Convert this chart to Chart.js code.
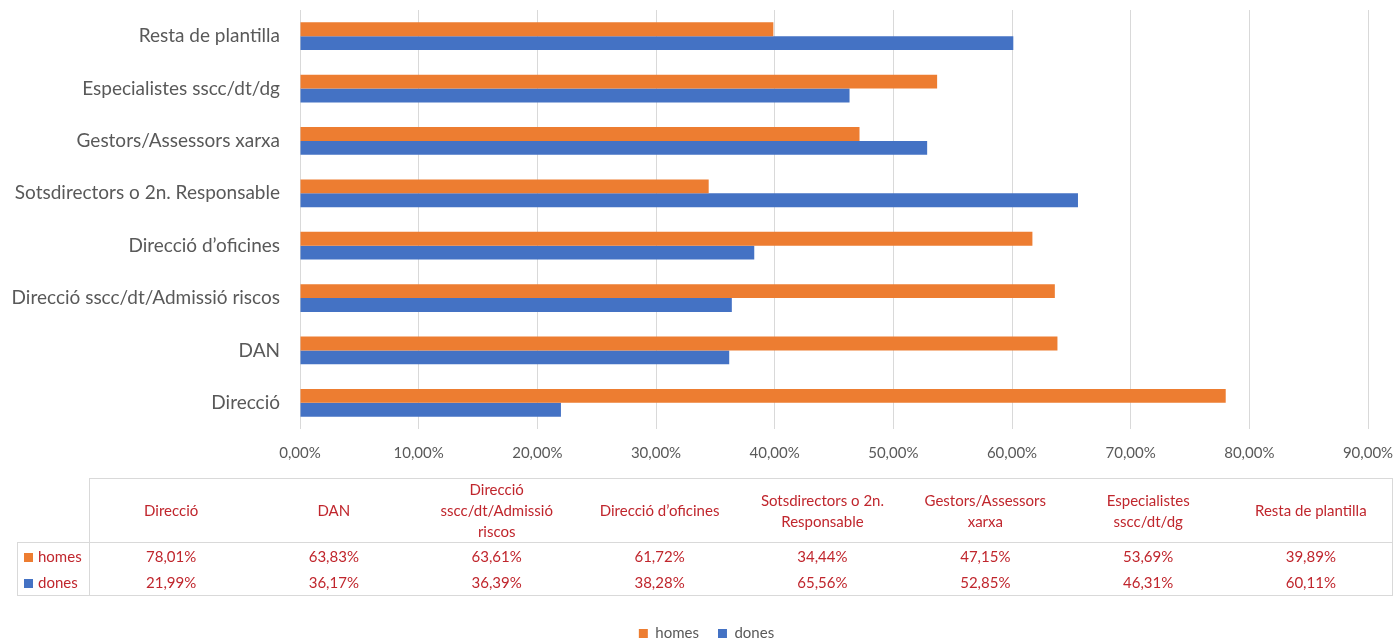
<!DOCTYPE html>
<html>
<head>
<meta charset="utf-8">
<script src="https://cdn.jsdelivr.net/npm/chart.js@4"></script>
<style>
  html, body { margin: 0; padding: 0; background: #fff; }
  #wrap { position: relative; width: 1398px; height: 639px; }
  #chart { position: absolute; left: 0; top: 0; }
  #dataTable {
    position: absolute; left: 17px; top: 478px; width: 1376px;
    border-collapse: collapse; table-layout: fixed;
    font-family: Lato, "Open Sans", sans-serif; font-size: 15px; color: #c0262d;
  }
  #dataTable th, #dataTable td { padding: 0 11px; text-align: center; font-weight: normal; line-height: 21px; }
  #dataTable thead th { height: 61px; border-top: 1px solid #d9d9d9; }
  #dataTable thead th.corner { border: none; }
  #dataTable th.first { border-left: 1px solid #d9d9d9; }
  #dataTable td { height: 26px; }
  #dataTable tbody tr:first-child td { border-top: 1px solid #d9d9d9; }
  #dataTable tbody tr:last-child td { border-bottom: 1px solid #d9d9d9; }
  #dataTable td.series { text-align: left; padding: 0 0 0 6px; border-left: 1px solid #d9d9d9; border-right: 1px solid #d9d9d9; }
  #dataTable th:last-child, #dataTable td:last-child { border-right: 1px solid #d9d9d9; }
  .swatch { display: inline-block; width: 9px; height: 9px; margin-right: 5px; }
</style>
</head>
<body>
<div id="wrap">
  <canvas id="chart" width="1398" height="639"></canvas>
  <table id="dataTable"></table>
</div>
<script>
// Categories (table order, bottom to top in the chart)
const categories = [
    'Direcció',
    'DAN',
    'Direcció sscc/dt/Admissió riscos',
    'Direcció d’oficines',
    'Sotsdirectors o 2n. Responsable',
    'Gestors/Assessors xarxa',
    'Especialistes sscc/dt/dg',
    'Resta de plantilla'
];
const homes = [78.01, 63.83, 63.61, 61.72, 34.44, 47.15, 53.69, 39.89];
const dones = [21.99, 36.17, 36.39, 38.28, 65.56, 52.85, 46.31, 60.11];
const seriesNames = ['homes', 'dones'];
const seriesColors = ['#ED7D31', '#4472C4'];

const FONT = 'Lato, "Open Sans", sans-serif';
const GREY = '#595959';

function formatPct(v) {
    return v.toFixed(2).replace('.', ',') + '%';
}

// Data table under the chart
function buildTable() {
    const table = document.getElementById('dataTable');
    let html = '<colgroup><col style="width:72px">';
    categories.forEach(() => { html += '<col>'; });
    html += '</colgroup><thead><tr><th class="corner"></th>';
    categories.forEach((c, i) => {
        html += `<th${i === 0 ? ' class="first"' : ''}>${c}</th>`;
    });
    html += '</tr></thead><tbody>';
    [homes, dones].forEach((values, s) => {
        html += `<tr><td class="series"><span class="swatch" style="background:${seriesColors[s]}"></span>${seriesNames[s]}</td>`;
        values.forEach(v => { html += `<td>${formatPct(v)}</td>`; });
        html += '</tr>';
    });
    html += '</tbody>';
    table.innerHTML = html;
}
buildTable();

// Nudge the legend a little to the right, where the original has it
const legendShift = {
    id: 'legendShift',
    afterLayout(chart) {
        chart.legend.left += 20;
        chart.legend.right += 20;
    }
};

new Chart(document.getElementById('chart'), {
    type: 'bar',
    data: {
        labels: categories,
        datasets: [
            { label: seriesNames[0], data: homes, backgroundColor: seriesColors[0] },
            { label: seriesNames[1], data: dones, backgroundColor: seriesColors[1] }
        ]
    },
    options: {
        indexAxis: 'y',
        responsive: false,
        animation: false,
        layout: { padding: { top: 10, left: 5, right: 30, bottom: -12 } },
        datasets: {
            bar: { categoryPercentage: 0.53, barPercentage: 1 }
        },
        scales: {
            x: {
                min: 0,
                max: 90,
                ticks: {
                    stepSize: 10,
                    padding: 15,
                    color: GREY,
                    font: { family: FONT, size: 15 },
                    callback: v => formatPct(v)
                },
                grid: { color: '#d9d9d9', drawTicks: false },
                border: { display: false },
                afterFit: scale => {
                    scale.height = 178;
                    scale.paddingLeft = 0;
                    scale.paddingRight = 0;
                }
            },
            y: {
                reverse: true,
                ticks: {
                    padding: 12,
                    color: GREY,
                    font: { family: FONT, size: 19 }
                },
                grid: { display: false },
                border: { display: false },
                afterFit: scale => {
                    scale.width = 295;
                    scale.paddingTop = 0;
                    scale.paddingBottom = 0;
                }
            }
        },
        plugins: {
            legend: {
                position: 'bottom',
                labels: {
                    boxWidth: 9,
                    boxHeight: 9,
                    padding: 19,
                    color: GREY,
                    font: { family: FONT, size: 15 }
                }
            },
            tooltip: { enabled: false }
        }
    },
    plugins: [legendShift]
});
</script>
</body>
</html>
